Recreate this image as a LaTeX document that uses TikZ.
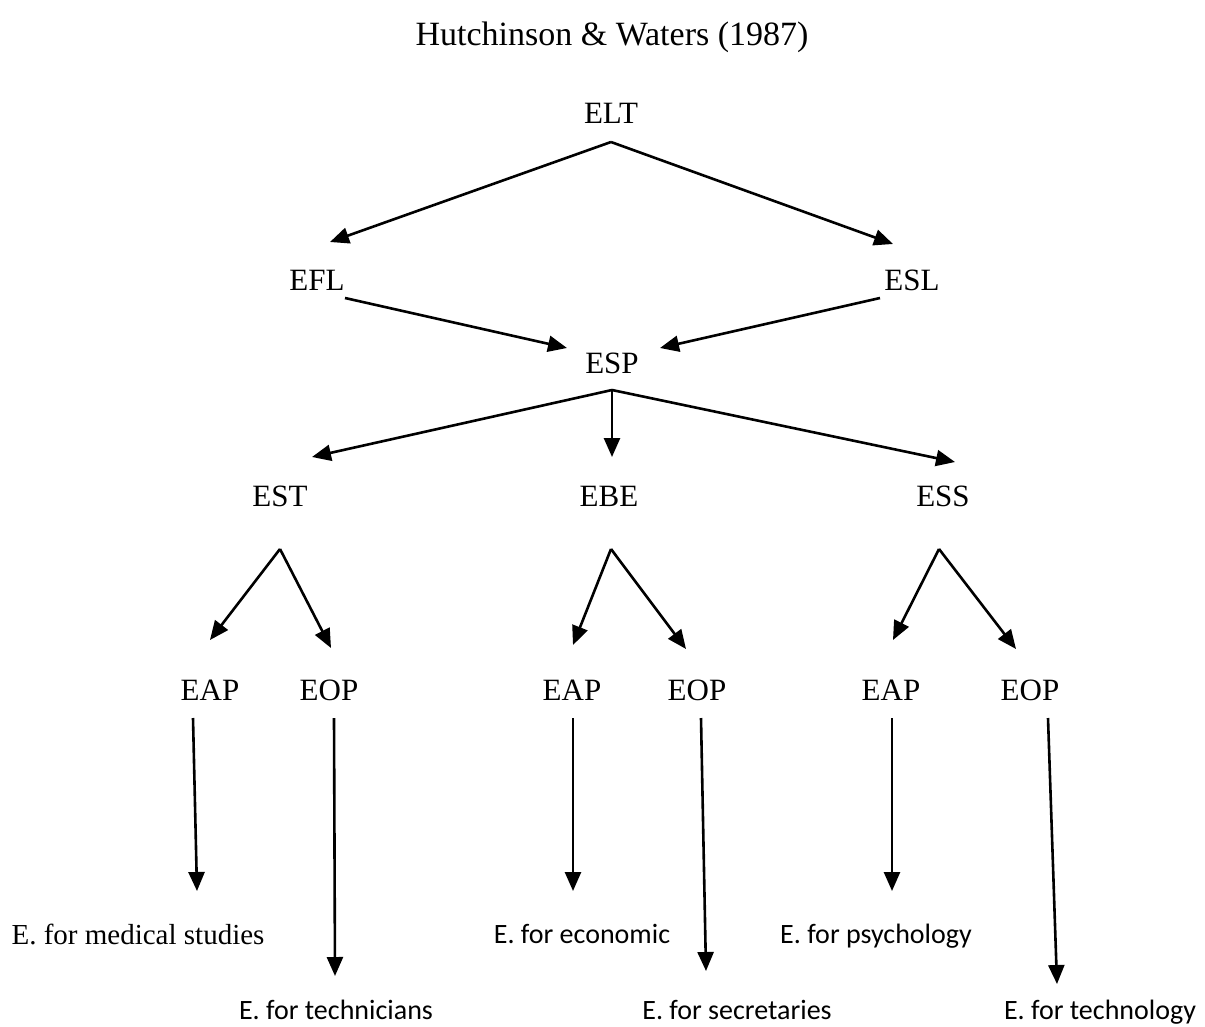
\documentclass[tikz,border=0pt]{standalone}
\usepackage{fontspec}
\setmainfont{Liberation Serif}
\newfontfamily\calfont{Carlito}
\usetikzlibrary{arrows.meta}
\begin{document}
\begin{tikzpicture}[x=1pt,y=-1pt,
  lbl/.style={inner sep=0pt,font=\fontsize{31}{36}\selectfont},
  sub/.style={inner sep=0pt,font=\calfont\fontsize{28}{33}\selectfont},
  arr/.style={line width=2.6pt,-{Triangle[length=19pt,width=16pt]}}]
\useasboundingbox (0,0) rectangle (1205,1026);

% title
\node[inner sep=0pt,font=\fontsize{34}{40}\selectfont] (title) at (612,37) {Hutchinson \& Waters (1987)};

% main levels
\node[lbl] (elt) at (611,113) {ELT};
\node[lbl] (efl) at (317,280) {EFL};
\node[lbl] (esl) at (912,280) {ESL};
\node[lbl] (esp) at (612,363) {ESP};
\node[lbl] (est) at (280,496) {EST};
\node[lbl] (ebe) at (609,496) {EBE};
\node[lbl] (ess) at (943,496) {ESS};

\node[lbl] (eap1) at (210,690) {EAP};
\node[lbl] (eop1) at (329,690) {EOP};
\node[lbl] (eap2) at (572,690) {EAP};
\node[lbl] (eop2) at (697,690) {EOP};
\node[lbl] (eap3) at (891,690) {EAP};
\node[lbl] (eop3) at (1030,690) {EOP};

% leaves
\node[inner sep=0pt,font=\fontsize{29}{34}\selectfont] (med) at (138,934) {E. for medical studies};
\node[sub] (tech) at (336,1010) {E. for technicians};
\node[sub] (econ) at (582,934) {E. for economic};
\node[sub] (secr) at (737,1010) {E. for secretaries};
\node[sub] (psy) at (876,936) {E. for psychology};
\node[sub] (tecg) at (1100,1012) {E. for technology};

% connector start points
\coordinate (eltB) at (611,142);
\coordinate (eflB) at (345,298);
\coordinate (eslB) at (880,298);
\coordinate (espB) at (612,390);
\coordinate (estB) at (280,549);
\coordinate (ebeB) at (611,549);
\coordinate (essB) at (939,549);
\coordinate (eap1B) at (193,718);
\coordinate (eop1B) at (334,718);
\coordinate (eap2B) at (573,718);
\coordinate (eop2B) at (701,718);
\coordinate (eap3B) at (892,718);
\coordinate (eop3B) at (1048,718);

% connector tips
\coordinate (eflT) at (330,242);
\coordinate (eslT) at (893,244);
\coordinate (espTl) at (567,348);
\coordinate (espTr) at (660,348);
\coordinate (estT) at (312,457);
\coordinate (ebeT) at (612,457);
\coordinate (essT) at (955,462);
\coordinate (eap1T) at (210,640);
\coordinate (eop1T) at (331,648);
\coordinate (eap2T) at (573,645);
\coordinate (eop2T) at (686,649);
\coordinate (eap3T) at (893,640);
\coordinate (eop3T) at (1016,649);
\coordinate (medT) at (197,891);
\coordinate (techT) at (335,976);
\coordinate (econT) at (573,891);
\coordinate (secrT) at (706,971);
\coordinate (psyT) at (892,891);
\coordinate (tecgT) at (1057,984);

\draw[arr] (eltB) -- (eflT);
\draw[arr] (eltB) -- (eslT);
\draw[arr] (eflB) -- (espTl);
\draw[arr] (eslB) -- (espTr);
\draw[arr] (espB) -- (estT);
\draw[arr] (espB) -- (ebeT);
\draw[arr] (espB) -- (essT);
\draw[arr] (estB) -- (eap1T);
\draw[arr] (estB) -- (eop1T);
\draw[arr] (ebeB) -- (eap2T);
\draw[arr] (ebeB) -- (eop2T);
\draw[arr] (essB) -- (eap3T);
\draw[arr] (essB) -- (eop3T);
\draw[arr] (eap1B) -- (medT);
\draw[arr] (eop1B) -- (techT);
\draw[arr] (eap2B) -- (econT);
\draw[arr] (eop2B) -- (secrT);
\draw[arr] (eap3B) -- (psyT);
\draw[arr] (eop3B) -- (tecgT);
\end{tikzpicture}
\end{document}
